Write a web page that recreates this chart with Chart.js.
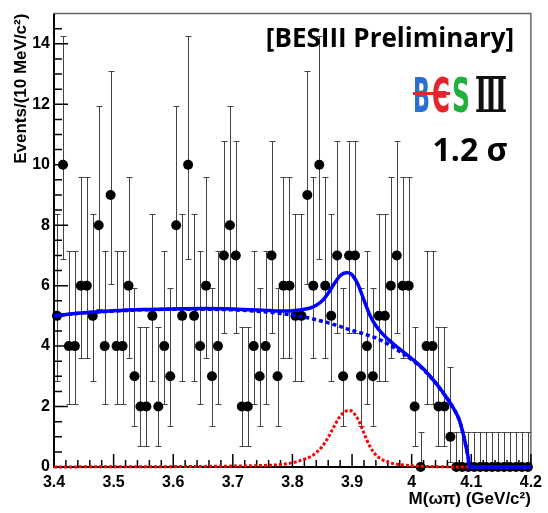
<!DOCTYPE html>
<html>
<head>
<meta charset="utf-8">
<script src="https://cdn.jsdelivr.net/npm/chart.js@4.4.1/dist/chart.umd.min.js"></script>
<style>
  html, body { margin: 0; padding: 0; background: #fff; }
  #grafico { display: block; }
</style>
</head>
<body>
<canvas id="grafico" width="548" height="513"></canvas>
<script>
// Centros de bin (10 MeV) entre 3.40 y 4.20 GeV
const binCentros = [
  3.405, 3.415, 3.425, 3.435, 3.445, 3.455, 3.465, 3.475, 3.485, 3.495,
  3.505, 3.515, 3.525, 3.535, 3.545, 3.555, 3.565, 3.575, 3.585, 3.595,
  3.605, 3.615, 3.625, 3.635, 3.645, 3.655, 3.665, 3.675, 3.685, 3.695,
  3.705, 3.715, 3.725, 3.735, 3.745, 3.755, 3.765, 3.775, 3.785, 3.795,
  3.805, 3.815, 3.825, 3.835, 3.845, 3.855, 3.865, 3.875, 3.885, 3.895,
  3.905, 3.915, 3.925, 3.935, 3.945, 3.955, 3.965, 3.975, 3.985, 3.995,
  4.005, 4.015, 4.025, 4.035, 4.045, 4.055, 4.065, 4.075, 4.085, 4.095,
  4.105, 4.115, 4.125, 4.135, 4.145, 4.155, 4.165, 4.175, 4.185, 4.195
];

// Eventos por bin
const eventos = [
  5, 10, 4, 4, 6, 6, 5, 8, 4, 9,
  4, 4, 6, 3, 2, 2, 5, 2, 4, 3,
  8, 5, 10, 5, 4, 6, 3, 4, 7, 8,
  7, 2, 2, 4, 3, 4, 7, 3, 6, 6,
  5, 5, 9, 6, 10, 6, 5, 7, 3, 7,
  7, 3, 4, 3, 5, 5, 6, 7, 6, 6,
  2, 0, 4, 4, 2, 2, 1, 0, 0, 0,
  0, 0, 0, 0, 0, 0, 0, 0, 0, 0
];

// Barras de error de Poisson (índice = número de eventos)
const errArriba = [1.15, 2.30, 2.64, 2.92, 3.16, 3.38, 3.58, 3.77, 3.95, 4.11, 4.27];
const errAbajo  = [0.00, 0.83, 1.29, 1.63, 1.91, 2.16, 2.38, 2.58, 2.76, 2.94, 3.11];

// Curvas del ajuste
const curvaX = [3.40, 3.45, 3.50, 3.55, 3.60, 3.65, 3.70, 3.75, 3.78, 3.80,
                3.82, 3.83, 3.84, 3.85, 3.86, 3.87, 3.88, 3.89, 3.895, 3.90,
                3.91, 3.92, 3.93, 3.94, 3.95, 3.96, 3.97, 3.98, 4.00, 4.02,
                4.04, 4.06, 4.07, 4.08, 4.087, 4.092, 4.095, 4.097, 4.15, 4.20];
const fondoY = [5.00, 5.10, 5.16, 5.20, 5.22, 5.22, 5.20, 5.14, 5.08, 5.03,
                4.96, 4.92, 4.87, 4.82, 4.77, 4.71, 4.65, 4.58, 4.55, 4.52,
                4.46, 4.40, 4.34, 4.27, 4.18, 4.07, 3.95, 3.82, 3.55, 3.22,
                2.78, 2.25, 1.95, 1.55, 1.05, 0.60, 0.30, 0.00, 0.00, 0.00];
const senalY = [0.00, 0.005, 0.007, 0.01, 0.012, 0.02, 0.03, 0.05, 0.08, 0.14,
                0.26, 0.34, 0.48, 0.68, 0.98, 1.35, 1.68, 1.85, 1.87, 1.84,
                1.58, 1.12, 0.68, 0.40, 0.25, 0.16, 0.11, 0.08, 0.04, 0.02,
                0.01, 0.005, 0.00, 0.00, 0.00, 0.00, 0.00, 0.00, 0.00, 0.00];
const totalY = [5.00, 5.10, 5.17, 5.21, 5.23, 5.24, 5.23, 5.19, 5.16, 5.17,
                5.22, 5.26, 5.35, 5.50, 5.75, 6.06, 6.33, 6.43, 6.42, 6.36,
                6.04, 5.52, 5.02, 4.67, 4.43, 4.23, 4.06, 3.90, 3.59, 3.24,
                2.79, 2.26, 1.95, 1.55, 1.05, 0.60, 0.30, 0.00, 0.00, 0.00];

const fuenteEjes = '"Liberation Sans", Arial, sans-serif';

function puntos(xs, ys) {
  return xs.map((v, i) => ({ x: v, y: ys[i] }));
}

/**
 * Marco, marcas de los ejes (hacia dentro, estilo ROOT) y barras de error
 */
const marcoPlugin = {
  id: 'marco',
  beforeDatasetsDraw(chart) {
    const { ctx, chartArea: a, scales: { x, y } } = chart;
    ctx.save();

    // barras de error
    ctx.strokeStyle = '#444';
    ctx.lineWidth = 1;
    binCentros.forEach((c, i) => {
      const n = eventos[i];
      const px = Math.round(x.getPixelForValue(c)) + 0.5;
      const yArr = Math.round(y.getPixelForValue(n + errArriba[n])) + 0.5;
      const yAb = Math.round(y.getPixelForValue(n - errAbajo[n])) + 0.5;
      ctx.beginPath();
      ctx.moveTo(px, yArr); ctx.lineTo(px, yAb);
      ctx.moveTo(px - 3, yArr); ctx.lineTo(px + 3, yArr);
      if (n > 0) { ctx.moveTo(px - 3, yAb); ctx.lineTo(px + 3, yAb); }
      ctx.stroke();
    });

    // marco superior y derecho
    ctx.strokeStyle = '#666';
    ctx.lineWidth = 1.5;
    ctx.beginPath();
    ctx.moveTo(a.left, a.top); ctx.lineTo(a.right, a.top); ctx.lineTo(a.right, a.bottom);
    ctx.stroke();

    // ejes izquierdo e inferior
    ctx.strokeStyle = '#000';
    ctx.lineWidth = 2;
    ctx.beginPath();
    ctx.moveTo(a.left, a.top); ctx.lineTo(a.left, a.bottom); ctx.lineTo(a.right, a.bottom);
    ctx.stroke();

    // marcas del eje x: mayores cada 0.1, menores cada 0.02
    ctx.lineWidth = 1.5;
    ctx.beginPath();
    for (let i = 0; i <= 40; i++) {
      const px = x.getPixelForValue(3.4 + i * 0.02);
      const largo = i % 5 === 0 ? 13 : 7;
      ctx.moveTo(px, a.bottom); ctx.lineTo(px, a.bottom - largo);
    }
    // marcas del eje y: mayores cada 2, menores cada 0.5
    for (let i = 0; i < 30; i++) {
      const py = y.getPixelForValue(i * 0.5);
      const largo = i % 4 === 0 ? 14 : 8;
      ctx.moveTo(a.left, py); ctx.lineTo(a.left + largo, py);
    }
    ctx.stroke();
    ctx.restore();
  },

  // Textos y logo
  afterDraw(chart) {
    const { ctx } = chart;
    ctx.save();
    ctx.fillStyle = '#000';
    ctx.textAlign = 'center';
    ctx.textBaseline = 'middle';
    ctx.font = 'bold 26px "Open Sans", sans-serif';
    ctx.fillText('[BESIII Preliminary]', 390, 40);
    ctx.font = 'bold 32px "Open Sans", sans-serif';
    ctx.fillText('1.2 σ', 470, 152);

    // logo BESIII
    ctx.textAlign = 'left';
    ctx.textBaseline = 'alphabetic';
    ctx.font = 'bold 48px "DejaVu Sans", sans-serif';
    ctx.fillStyle = '#2a6fd2';
    ctx.fillText('B', 413, 112, 17);
    ctx.fillStyle = '#e3262d';
    ctx.fillText('Є', 432, 112, 18);
    ctx.fillStyle = '#22b03c';
    ctx.fillText('S', 452, 112, 18);
    ctx.fillStyle = '#111';
    ctx.font = 'bold 48px "DejaVu Serif", "Liberation Serif", serif';
    ctx.fillText('Ⅲ', 475, 112, 32);
    ctx.fillStyle = '#e3262d';
    ctx.fillRect(413, 92, 37, 3);
    ctx.restore();
  }
};

new Chart(document.getElementById('grafico'), {
  type: 'scatter',
  data: {
    datasets: [
      {
        label: 'Total',
        data: puntos(curvaX, totalY),
        showLine: true,
        pointRadius: 0,
        borderColor: '#0000ff',
        borderWidth: 3.5,
        cubicInterpolationMode: 'monotone',
        clip: false,
        order: 1
      },
      {
        label: 'Fondo',
        data: puntos(curvaX, fondoY),
        showLine: true,
        pointRadius: 0,
        borderColor: '#0000ff',
        borderWidth: 3.5,
        borderDash: [4, 3],
        cubicInterpolationMode: 'monotone',
        clip: false,
        order: 2
      },
      {
        label: 'Señal',
        data: puntos(curvaX, senalY),
        showLine: true,
        pointRadius: 0,
        borderColor: '#ff0000',
        borderWidth: 3,
        borderDash: [3, 2],
        cubicInterpolationMode: 'monotone',
        clip: false,
        order: 3
      },
      {
        label: 'Datos',
        data: puntos(binCentros, eventos),
        pointRadius: 5,
        pointHoverRadius: 5,
        backgroundColor: '#000',
        borderWidth: 0,
        clip: false,
        order: 4
      }
    ]
  },
  options: {
    responsive: false,
    animation: false,
    devicePixelRatio: 1,
    layout: { padding: { left: 0, right: 10, top: 7, bottom: 0 } },
    plugins: { legend: { display: false }, tooltip: { enabled: false } },
    scales: {
      x: {
        type: 'linear',
        min: 3.4,
        max: 4.2,
        grid: { display: false, drawTicks: false },
        border: { display: false },
        ticks: {
          stepSize: 0.1,
          includeBounds: false,
          autoSkip: false,
          maxRotation: 0,
          padding: 6,
          color: '#000',
          font: { family: fuenteEjes, size: 16, weight: 'bold' },
          callback: v => String(Math.round(v * 10) / 10)
        },
        title: {
          display: true,
          text: 'M(ωπ) (GeV/c²)',
          align: 'end',
          color: '#000',
          font: { family: fuenteEjes, size: 17, weight: 'bold' },
          padding: { top: 0, bottom: 3 }
        },
        afterFit: s => { s.height = 46; }
      },
      y: {
        type: 'linear',
        min: 0,
        max: 15,
        grid: { display: false, drawTicks: false },
        border: { display: false },
        ticks: {
          stepSize: 2,
          includeBounds: false,
          padding: 4,
          color: '#000',
          font: { family: fuenteEjes, size: 16, weight: 'bold' }
        },
        title: {
          display: true,
          text: 'Events/(10 MeV/c²)',
          align: 'end',
          color: '#000',
          font: { family: fuenteEjes, size: 17, weight: 'bold' },
          padding: { top: 11, bottom: 0 }
        },
        afterFit: s => { s.width = 54; }
      }
    }
  },
  plugins: [marcoPlugin]
});
</script>
</body>
</html>
